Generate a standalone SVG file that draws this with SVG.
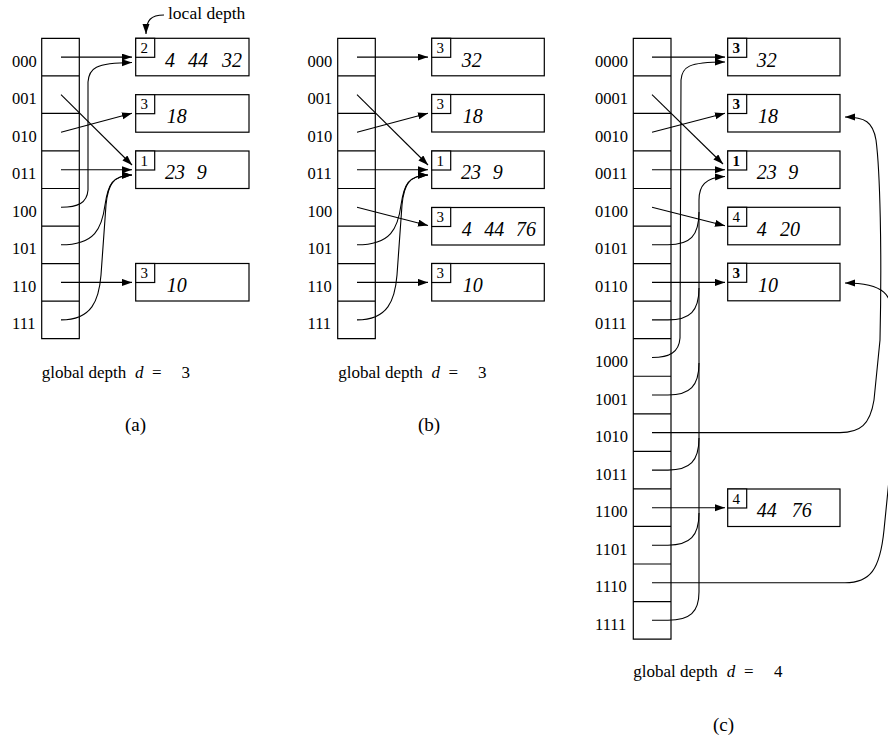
<svg xmlns="http://www.w3.org/2000/svg" width="888" height="740" viewBox="0 0 888 740">
<style>
text{font-family:"Liberation Serif","Times New Roman",serif;fill:#000}
.lbl{font-size:16.5px}
.val{font-size:20px;font-style:italic}
.dep{font-size:15px}
.depb{font-size:15px;font-weight:bold}
.cap{font-size:17px}
.it{font-style:italic}
.par{font-size:19px}
.box{fill:#fff;stroke:#000;stroke-width:1.2}
.grid{fill:none;stroke:#000;stroke-width:1.2}
.con{fill:none;stroke:#000;stroke-width:1.1}
</style>
<defs>
<marker id="ah" markerUnits="userSpaceOnUse" markerWidth="11" markerHeight="8" refX="10" refY="3.5" orient="auto">
<path d="M0,0 L10,3.5 L0,7 Z" fill="#000"/>
</marker>
</defs>

<!-- ===== (a) ===== -->
<g id="dir-a">
<path class="grid" d="M41.7,38.3 H79.3 V338.7 H41.7 Z M41.7,75.85 H79.3 M41.7,113.4 H79.3 M41.7,150.95 H79.3 M41.7,188.5 H79.3 M41.7,226.05 H79.3 M41.7,263.6 H79.3 M41.7,301.15 H79.3"/>
<text class="lbl" x="12" y="66.6">000</text>
<text class="lbl" x="12" y="104.1">001</text>
<text class="lbl" x="12" y="141.7">010</text>
<text class="lbl" x="12" y="179.2">011</text>
<text class="lbl" x="12" y="216.8">100</text>
<text class="lbl" x="12" y="254.3">101</text>
<text class="lbl" x="12" y="291.9">110</text>
<text class="lbl" x="12" y="329.4">111</text>
</g>
<g id="a-b1">
<rect class="box" x="135.7" y="38.3" width="113.3" height="37.5"/>
<rect class="box" x="135.7" y="38.3" width="19" height="19"/>
<text class="dep" x="140.5" y="52.8">2</text>
<text class="val" y="66.5"><tspan x="165">4</tspan><tspan x="188">44</tspan><tspan x="222">32</tspan></text>
</g>
<g id="a-b2">
<rect class="box" x="135.7" y="94.7" width="113.3" height="37.5"/>
<rect class="box" x="135.7" y="94.7" width="19" height="19"/>
<text class="dep" x="140.5" y="109.2">3</text>
<text class="val" x="166.7" y="123">18</text>
</g>
<g id="a-b3">
<rect class="box" x="135.7" y="151" width="113.3" height="37.5"/>
<rect class="box" x="135.7" y="151" width="19" height="19"/>
<text class="dep" x="140.5" y="165.5">1</text>
<text class="val" y="179.3"><tspan x="165">23</tspan><tspan x="196.7">9</tspan></text>
</g>
<g id="a-b4">
<rect class="box" x="135.7" y="263.5" width="113.3" height="37.5"/>
<rect class="box" x="135.7" y="263.5" width="19" height="19"/>
<text class="dep" x="140.5" y="278">3</text>
<text class="val" x="166.7" y="291.8">10</text>
</g>
<g id="local-depth">
<text x="168" y="18.5" style="font-size:17.5px">local depth</text>
</g>
<g id="a-caption">
<text class="cap" y="378"><tspan x="41.7">global depth</tspan><tspan x="135" class="it">d</tspan><tspan x="152">=</tspan><tspan x="181.5">3</tspan></text>
<text class="par" x="125" y="431">(a)</text>
</g>

<!-- ===== (b) ===== -->
<g id="dir-b">
<path class="grid" d="M337.7,38.3 H375.3 V338.7 H337.7 Z M337.7,75.85 H375.3 M337.7,113.4 H375.3 M337.7,150.95 H375.3 M337.7,188.5 H375.3 M337.7,226.05 H375.3 M337.7,263.6 H375.3 M337.7,301.15 H375.3"/>
<text class="lbl" x="307.5" y="66.6">000</text>
<text class="lbl" x="307.5" y="104.1">001</text>
<text class="lbl" x="307.5" y="141.7">010</text>
<text class="lbl" x="307.5" y="179.2">011</text>
<text class="lbl" x="307.5" y="216.8">100</text>
<text class="lbl" x="307.5" y="254.3">101</text>
<text class="lbl" x="307.5" y="291.9">110</text>
<text class="lbl" x="307.5" y="329.4">111</text>
</g>
<g id="b-b1">
<rect class="box" x="431.7" y="38.3" width="112.6" height="37.5"/>
<rect class="box" x="431.7" y="38.3" width="19" height="19"/>
<text class="dep" x="436.5" y="52.8">3</text>
<text class="val" x="461.7" y="66.5">32</text>
</g>
<g id="b-b2">
<rect class="box" x="431.7" y="94.5" width="112.6" height="37.5"/>
<rect class="box" x="431.7" y="94.5" width="19" height="19"/>
<text class="dep" x="436.5" y="109">3</text>
<text class="val" x="462.7" y="122.8">18</text>
</g>
<g id="b-b3">
<rect class="box" x="431.7" y="151" width="112.6" height="37.5"/>
<rect class="box" x="431.7" y="151" width="19" height="19"/>
<text class="dep" x="436.5" y="165.5">1</text>
<text class="val" y="179.3"><tspan x="461">23</tspan><tspan x="492.7">9</tspan></text>
</g>
<g id="b-b4">
<rect class="box" x="431.7" y="207.5" width="112.6" height="37.5"/>
<rect class="box" x="431.7" y="207.5" width="19" height="19"/>
<text class="dep" x="436.5" y="222">3</text>
<text class="val" y="235.8"><tspan x="461.7">4</tspan><tspan x="484.3">44</tspan><tspan x="516">76</tspan></text>
</g>
<g id="b-b5">
<rect class="box" x="431.7" y="263.5" width="112.6" height="37.5"/>
<rect class="box" x="431.7" y="263.5" width="19" height="19"/>
<text class="dep" x="436.5" y="278">3</text>
<text class="val" x="462.7" y="291.8">10</text>
</g>
<g id="b-caption">
<text class="cap" y="378"><tspan x="338.3">global depth</tspan><tspan x="431.6" class="it">d</tspan><tspan x="448.6">=</tspan><tspan x="478">3</tspan></text>
<text class="par" x="418" y="431">(b)</text>
</g>

<!-- ===== (c) ===== -->
<g id="dir-c">
<path class="grid" d="M633.3,38.3 H671 V639.1 H633.3 Z M633.3,75.85 H671 M633.3,113.4 H671 M633.3,150.95 H671 M633.3,188.5 H671 M633.3,226.05 H671 M633.3,263.6 H671 M633.3,301.15 H671 M633.3,338.7 H671 M633.3,376.25 H671 M633.3,413.8 H671 M633.3,451.35 H671 M633.3,488.9 H671 M633.3,526.45 H671 M633.3,564 H671 M633.3,601.55 H671"/>
<text class="lbl" x="595" y="66.6">0000</text>
<text class="lbl" x="595" y="104.1">0001</text>
<text class="lbl" x="595" y="141.7">0010</text>
<text class="lbl" x="595" y="179.2">0011</text>
<text class="lbl" x="595" y="216.8">0100</text>
<text class="lbl" x="595" y="254.3">0101</text>
<text class="lbl" x="595" y="291.9">0110</text>
<text class="lbl" x="595" y="329.4">0111</text>
<text class="lbl" x="595" y="367">1000</text>
<text class="lbl" x="595" y="404.5">1001</text>
<text class="lbl" x="595" y="442.1">1010</text>
<text class="lbl" x="595" y="479.6">1011</text>
<text class="lbl" x="595" y="517.2">1100</text>
<text class="lbl" x="595" y="554.7">1101</text>
<text class="lbl" x="595" y="592.3">1110</text>
<text class="lbl" x="595" y="629.8">1111</text>
</g>
<g id="c-b1">
<rect class="box" x="727.7" y="38.3" width="112.3" height="37.5"/>
<rect class="box" x="727.7" y="38.3" width="19" height="19"/>
<text class="depb" x="732.5" y="52.8">3</text>
<text class="val" x="756.7" y="66.5">32</text>
</g>
<g id="c-b2">
<rect class="box" x="727.7" y="94.5" width="112.3" height="37.5"/>
<rect class="box" x="727.7" y="94.5" width="19" height="19"/>
<text class="depb" x="732.5" y="109">3</text>
<text class="val" x="758" y="122.8">18</text>
</g>
<g id="c-b3">
<rect class="box" x="727.7" y="151" width="112.3" height="37.5"/>
<rect class="box" x="727.7" y="151" width="19" height="19"/>
<text class="depb" x="732.5" y="165.5">1</text>
<text class="val" y="179.3"><tspan x="756.7">23</tspan><tspan x="788.3">9</tspan></text>
</g>
<g id="c-b4">
<rect class="box" x="727.7" y="207.3" width="112.3" height="37.5"/>
<rect class="box" x="727.7" y="207.3" width="19" height="19"/>
<text class="dep" x="732.5" y="221.8">4</text>
<text class="val" y="235.6"><tspan x="756.7">4</tspan><tspan x="780">20</tspan></text>
</g>
<g id="c-b5">
<rect class="box" x="727.7" y="263.3" width="112.3" height="37.5"/>
<rect class="box" x="727.7" y="263.3" width="19" height="19"/>
<text class="depb" x="732.5" y="277.8">3</text>
<text class="val" x="758" y="291.6">10</text>
</g>
<g id="c-b6">
<rect class="box" x="727.7" y="489" width="112.3" height="37.5"/>
<rect class="box" x="727.7" y="489" width="19" height="19"/>
<text class="dep" x="732.5" y="503.5">4</text>
<text class="val" y="517.3"><tspan x="756.7">44</tspan><tspan x="791.7">76</tspan></text>
</g>
<g id="c-caption">
<text class="cap" y="677"><tspan x="633.3">global depth</tspan><tspan x="726.7" class="it">d</tspan><tspan x="744">=</tspan><tspan x="774">4</tspan></text>
<text class="par" x="713" y="731">(c)</text>
</g>

<!-- ===== connectors ===== -->
<g id="connectors" class="con">
<path class="con" marker-end="url(#ah)" d="M164,15 C151,15 146,20 146,34"/>
<!-- (a) -->
<path class="con" marker-end="url(#ah)" d="M61,57.1 L132,57.1"/>
<path class="con" marker-end="url(#ah)" d="M61,94.6 L132,165"/>
<path class="con" marker-end="url(#ah)" d="M61,132.2 L132,113.3"/>
<path class="con" marker-end="url(#ah)" d="M61,169.7 L132,169.7"/>
<path class="con" marker-end="url(#ah)" d="M61,207.3 C78,207.3 87,203 88,190 L88,82 C89,68 95,63 132,62.5"/>
<path class="con" marker-end="url(#ah)" d="M61,244.8 C95,244.8 102,228 105,205 C108,185 112,175.5 132,175"/>
<path class="con" marker-end="url(#ah)" d="M61,282.4 L132,282.4"/>
<path class="con" marker-end="url(#ah)" d="M61,319.9 C92,319.9 99,300 101,275 L106,205 C108,184 113,175.5 132,175"/>
<!-- (b) -->
<path class="con" marker-end="url(#ah)" d="M357,57.1 L428,57.1"/>
<path class="con" marker-end="url(#ah)" d="M357,94.6 L428,165"/>
<path class="con" marker-end="url(#ah)" d="M357,132.2 L428,113.3"/>
<path class="con" marker-end="url(#ah)" d="M357,169.7 L428,169.7"/>
<path class="con" marker-end="url(#ah)" d="M357,207.3 L428,225.5"/>
<path class="con" marker-end="url(#ah)" d="M357,244.8 C391,244.8 398,228 401,205 C404,185 408,175.5 428,175"/>
<path class="con" marker-end="url(#ah)" d="M357,282.4 L428,282.4"/>
<path class="con" marker-end="url(#ah)" d="M357,319.9 C388,319.9 395,300 397,275 L402,205 C404,184 409,175.5 428,175"/>
<!-- (c) -->
<path class="con" marker-end="url(#ah)" d="M652,57.1 L725,57.1"/>
<path class="con" marker-end="url(#ah)" d="M652,94.6 L723,164"/>
<path class="con" marker-end="url(#ah)" d="M652,132.2 L725,113.3"/>
<path class="con" marker-end="url(#ah)" d="M652,169.7 L725,169.7"/>
<path class="con" marker-end="url(#ah)" d="M652,207.3 L725,225.8"/>
<path class="con" marker-end="url(#ah)" d="M652,282.4 L725,282.4"/>
<path class="con" marker-end="url(#ah)" d="M652,507.7 L725,507.7"/>
<path class="con" marker-end="url(#ah)" d="M652,357.5 C670,357.5 679,352 680,338 L681,80 C682,67 688,62 725,62"/>
<path class="con" marker-end="url(#ah)" d="M652,620.3 H668 C690,620.3 699,612 699,592 L699,200 C699,186 705,177.5 725,176.5"/>
<path class="con" d="M652,244.8 H668 C690,244.8 699,236 699,212"/>
<path class="con" d="M652,319.9 H668 C690,319.9 699,311 699,288"/>
<path class="con" d="M652,395 H668 C690,395 699,386 699,363"/>
<path class="con" d="M652,470.1 H668 C690,470.1 699,461 699,438"/>
<path class="con" d="M652,545.2 H668 C690,545.2 699,536 699,513"/>
<path class="con" marker-end="url(#ah)" d="M652,432.6 H840 C860,432.6 870,425 874,400 L880,340 C882,250 880,170 876,140 C873,122 865,117 845,117"/>
<path class="con" marker-end="url(#ah)" d="M652,582.8 H845 C870,582.8 880,570 884,530 L890,470 C894,420 896,350 894,320 C892,295 885,283 845,283"/>
</g>
</svg>
